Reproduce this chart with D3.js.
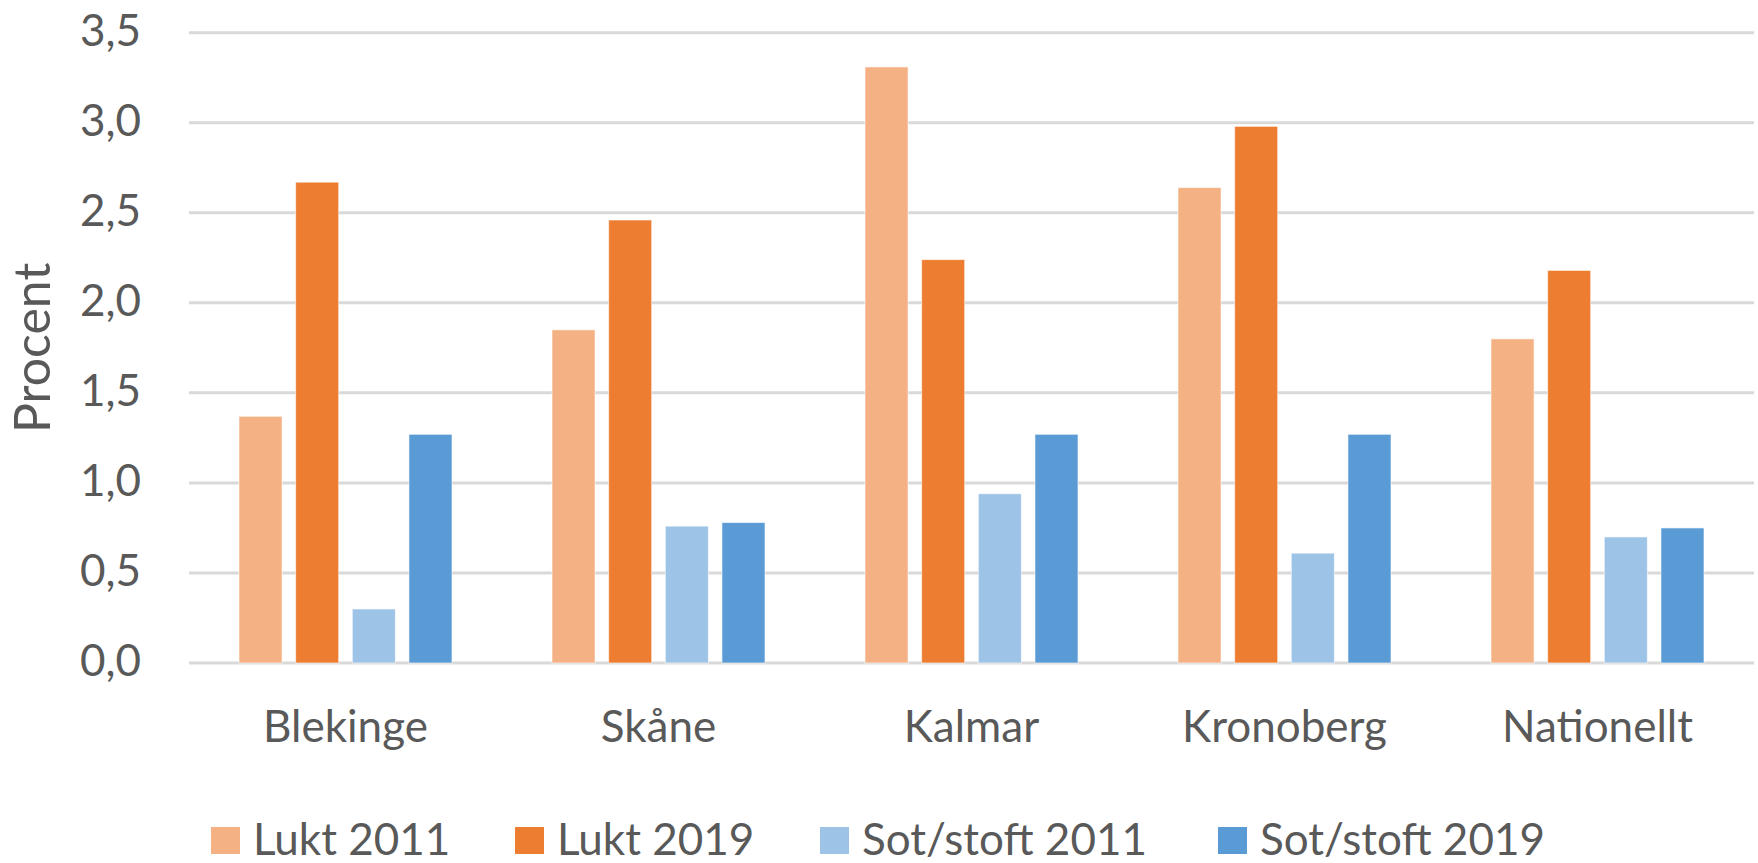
<!DOCTYPE html>
<html>
<head>
<meta charset="utf-8">
<script src="https://cdn.jsdelivr.net/npm/d3@7"></script>
<style>
	body { margin: 0; background: #fff; }
	text { font-family: Lato, "Open Sans", sans-serif; fill: #595959; }
</style>
</head>
<body>
<div class="content"></div>
<script>
// values (percent)
var regions = ["Blekinge", "Skåne", "Kalmar", "Kronoberg", "Nationellt"];
var seriesNames = ["Lukt 2011", "Lukt 2019", "Sot/stoft 2011", "Sot/stoft 2019"];
var lukt2011 = [1.37, 1.85, 3.31, 2.64, 1.80];
var lukt2019 = [2.67, 2.46, 2.24, 2.98, 2.18];
var sot2011 = [0.30, 0.76, 0.94, 0.61, 0.70];
var sot2019 = [1.27, 0.78, 1.27, 1.27, 0.75];
var yTicks = [0, 0.5, 1, 1.5, 2, 2.5, 3, 3.5];
var colors = ["#F4B183", "#ED7D31", "#9DC3E6", "#5B9BD5"];

(function() {
	var W = 1758, H = 863;
	var left = 189, right = 1754, top = 32.7, bottom = 663;

	var allSeries = [lukt2011, lukt2019, sot2011, sot2019];
	var rows = regions.map(function(r, i) {
		return { region: r, values: allSeries.map(function(s, j) { return { key: seriesNames[j], value: s[i], idx: j }; }) };
	});

	var svg = d3.select(".content")
		.append("svg")
		.attr("width", W)
		.attr("height", H);

	var x0 = d3.scaleBand()
		.domain(regions)
		.range([left, right]);

	var inner = 213;
	var x1 = d3.scaleBand()
		.domain(seriesNames)
		.range([(x0.bandwidth() - inner) / 2, (x0.bandwidth() + inner) / 2])
		.paddingInner(0.24);

	var y = d3.scaleLinear()
		.domain([0, 3.5])
		.range([bottom, top]);

	// gridlines
	svg.append("g")
		.selectAll("line")
		.data(yTicks)
		.enter()
		.append("line")
		.attr("x1", left)
		.attr("x2", right)
		.attr("y1", function(d) { return y(d); })
		.attr("y2", function(d) { return y(d); })
		.attr("stroke", "#D9D9D9")
		.attr("stroke-width", 3);

	// y tick labels
	svg.append("g")
		.selectAll("text")
		.data(yTicks)
		.enter()
		.append("text")
		.attr("x", 141)
		.attr("y", function(d) { return y(d) + 13; })
		.attr("text-anchor", "end")
		.style("font-size", "44px")
		.text(function(d) { return d.toFixed(1).replace(".", ","); });

	// axis title
	svg.append("text")
		.attr("transform", "translate(50," + ((top + bottom) / 2) + ") rotate(-90)")
		.attr("text-anchor", "middle")
		.style("font-size", "50px")
		.text("Procent");

	// bars
	var groups = svg.append("g")
		.selectAll("g")
		.data(rows)
		.enter()
		.append("g")
		.attr("transform", function(d) { return "translate(" + x0(d.region) + ",0)"; });

	groups.selectAll("rect")
		.data(function(d) { return d.values; })
		.enter()
		.append("rect")
		.attr("x", function(d) { return x1(d.key); })
		.attr("width", x1.bandwidth())
		.attr("y", function(d) { return y(d.value); })
		.attr("height", function(d) { return y(0) - y(d.value); })
		.attr("fill", function(d) { return colors[d.idx]; })
		.attr("stroke", "#fff")
		.attr("stroke-opacity", 0.6)
		.attr("stroke-width", 1);

	// category labels
	svg.append("g")
		.selectAll("text")
		.data(regions)
		.enter()
		.append("text")
		.attr("x", function(d) { return x0(d) + x0.bandwidth() / 2; })
		.attr("y", 742)
		.attr("text-anchor", "middle")
		.style("font-size", "44px")
		.text(function(d) { return d; });

	// legend, entries placed where the original puts them
	var legendX = [211, 515, 820, 1218];
	var legend = svg.append("g")
		.selectAll("g")
		.data(seriesNames)
		.enter()
		.append("g")
		.attr("transform", function(d, i) { return "translate(" + legendX[i] + ",0)"; });

	legend.append("rect")
		.attr("x", 0)
		.attr("y", 827)
		.attr("width", 29)
		.attr("height", 27)
		.attr("fill", function(d, i) { return colors[i]; });

	legend.append("text")
		.attr("x", 42)
		.attr("y", 855)
		.style("font-size", "44px")
		.text(function(d) { return d; });
}());
</script>
</body>
</html>
